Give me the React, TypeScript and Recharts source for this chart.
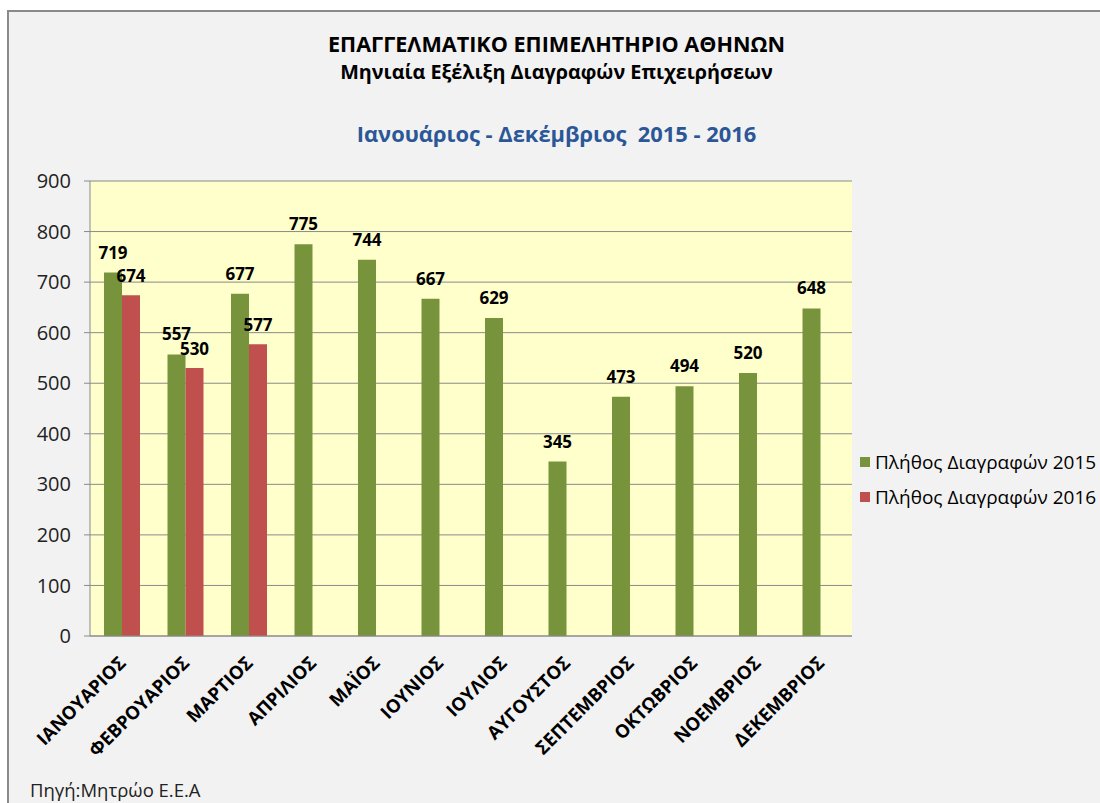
import { BarChart, Bar, CartesianGrid, XAxis, YAxis, Legend, LabelList } from "recharts";

const months = [
  "ΙΑΝΟΥΑΡΙΟΣ",
  "ΦΕΒΡΟΥΑΡΙΟΣ",
  "ΜΑΡΤΙΟΣ",
  "ΑΠΡΙΛΙΟΣ",
  "ΜΑΪΟΣ",
  "ΙΟΥΝΙΟΣ",
  "ΙΟΥΛΙΟΣ",
  "ΑΥΓΟΥΣΤΟΣ",
  "ΣΕΠΤΕΜΒΡΙΟΣ",
  "ΟΚΤΩΒΡΙΟΣ",
  "ΝΟΕΜΒΡΙΟΣ",
  "ΔΕΚΕΜΒΡΙΟΣ",
];
const deletions2015 = [719, 557, 677, 775, 744, 667, 629, 345, 473, 494, 520, 648];
const deletions2016: (number | null)[] = [674, 530, 577, null, null, null, null, null, null, null, null, null];
const yTicks = [0, 100, 200, 300, 400, 500, 600, 700, 800, 900];

const data = months.map((m, i) => ({
  name: m,
  y2015: deletions2015[i],
  y2016: deletions2016[i],
}));

const FONT = "'Open Sans', 'Noto Sans', sans-serif";
const GREEN = "#77933C";
const RED = "#C0504D";

const MonthTick = ({ x, y, payload }: any) => (
  <g transform={`translate(${x - 4},${y + 11})`}>
    <text
      transform="rotate(-45)"
      textAnchor="end"
      dy="0.7em"
      fontSize={18.5}
      fontWeight={700}
      fill="#000"
      fontFamily={FONT}
    >
      {payload.value}
    </text>
  </g>
);

const LegendBox = ({ payload }: any) => (
  <div style={{ fontFamily: FONT, fontSize: 19, color: "#000", textAlign: "left" }}>
    {payload.map((p: any) => (
      <div key={p.value} style={{ display: "flex", alignItems: "center", height: 35, whiteSpace: "nowrap" }}>
        <span style={{ width: 10, height: 10, background: p.color, marginRight: 5, display: "inline-block" }} />
        {p.value}
      </div>
    ))}
  </div>
);

const App = () => {
  return (
    <div
      style={{
        position: "absolute",
        left: 7,
        top: 10,
        width: 1100,
        height: 800,
        borderLeft: "2px solid #8a8a8a",
        borderTop: "2px solid #8a8a8a",
        background: "#F2F2F2",
        fontFamily: FONT,
        overflow: "hidden",
      }}
    >
      <div
        style={{
          position: "absolute",
          left: 0,
          width: 1095,
          top: 18,
          textAlign: "center",
          fontWeight: 700,
          color: "#000",
        }}
      >
        <div style={{ fontSize: 21.6, lineHeight: "28px" }}>ΕΠΑΓΓΕΛΜΑΤΙΚΟ ΕΠΙΜΕΛΗΤΗΡΙΟ ΑΘΗΝΩΝ</div>
        <div style={{ fontSize: 19.8, lineHeight: "28px" }}>Μηνιαία Εξέλιξη Διαγραφών Επιχειρήσεων</div>
      </div>
      <div
        style={{
          position: "absolute",
          left: 0,
          width: 1095,
          top: 107,
          lineHeight: "30px",
          textAlign: "center",
          fontWeight: 700,
          fontSize: 21.9,
          color: "#2B5797",
          whiteSpace: "pre",
        }}
      >
        {"Ιανουάριος - Δεκέμβριος  2015 - 2016"}
      </div>
      <BarChart
        width={1091}
        height={788}
        data={data}
        margin={{ top: 169, right: 248, left: 41, bottom: 44 }}
        barGap={0}
        barCategoryGap={13}
      >
        <CartesianGrid
          vertical={false}
          stroke="#8a8a8a"
          strokeWidth={1}
          fill="#FFFFCC"
          fillOpacity={1}
        />
        <XAxis
          dataKey="name"
          interval={0}
          height={120}
          tickLine={false}
          axisLine={{ stroke: "#8a8a8a" }}
          tick={<MonthTick />}
        />
        <YAxis
          domain={[0, 900]}
          ticks={yTicks}
          width={40}
          tickSize={6}
          tickMargin={13}
          axisLine={{ stroke: "#8a8a8a" }}
          tickLine={{ stroke: "#8a8a8a" }}
          tick={{ fontSize: 20, fill: "#222", fontFamily: FONT }}
        />
        <Legend
          layout="horizontal"
          verticalAlign="middle"
          align="center"
          content={<LegendBox />}
          wrapperStyle={{ left: 851, top: 432, width: 240 }}
        />
        <Bar dataKey="y2015" name="Πλήθος Διαγραφών 2015" fill={GREEN} barSize={18} isAnimationActive={false}>
          <LabelList dataKey="y2015" position="top" offset={14} fontSize={17} fontWeight={700} fill="#000" fontFamily={FONT} />
        </Bar>
        <Bar dataKey="y2016" name="Πλήθος Διαγραφών 2016" fill={RED} barSize={18} isAnimationActive={false}>
          <LabelList dataKey="y2016" position="top" offset={13} fontSize={17} fontWeight={700} fill="#000" fontFamily={FONT} />
        </Bar>
      </BarChart>
      <div
        style={{
          position: "absolute",
          left: 21,
          top: 768,
          lineHeight: "20px",
          fontSize: 18.5,
          color: "#222",
        }}
      >
        Πηγή:Μητρώο Ε.Ε.Α
      </div>
    </div>
  );
};

export default App;
